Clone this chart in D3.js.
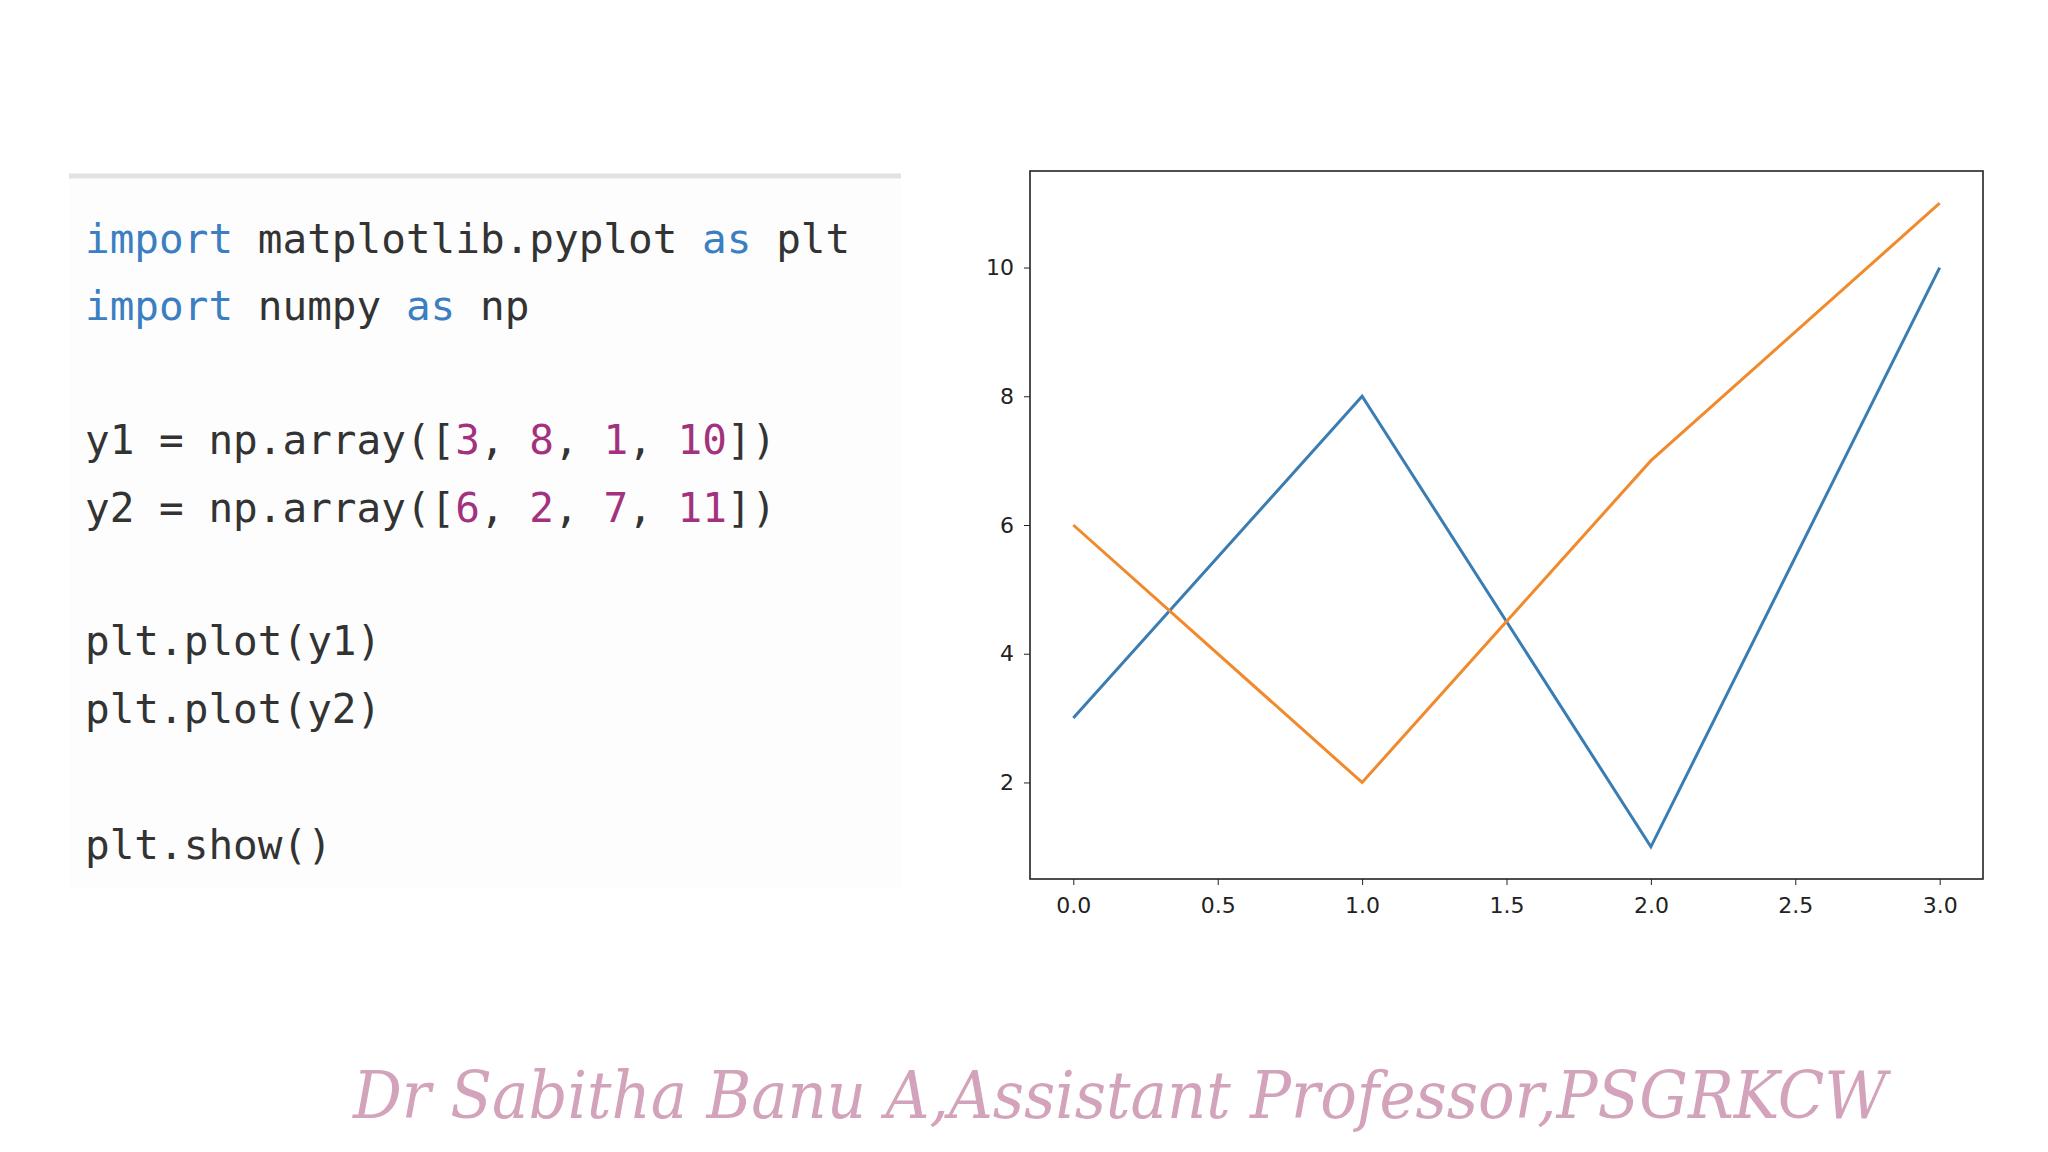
<!DOCTYPE html>
<html><head><meta charset="utf-8">
<script src="https://cdn.jsdelivr.net/npm/d3@7"></script>
<style>body{margin:0;background:#fff}</style></head>
<body><svg id="c" width="2048" height="1152"></svg>
<script>
const xIdx = [0, 1, 2, 3];
const y1 = [3, 8, 1, 10];
const y2 = [6, 2, 7, 11];
const xTicks = [0, 0.5, 1, 1.5, 2, 2.5, 3];
const yTicks = [2, 4, 6, 8, 10];
const codeLines = [
  [["import","k"],[" matplotlib.pyplot ","t"],["as","k"],[" plt","t"]],
  [["import","k"],[" numpy ","t"],["as","k"],[" np","t"]],
  [["y1 = np.array([","t"],["3","n"],[", ","t"],["8","n"],[", ","t"],["1","n"],[", ","t"],["10","n"],["])","t"]],
  [["y2 = np.array([","t"],["6","n"],[", ","t"],["2","n"],[", ","t"],["7","n"],[", ","t"],["11","n"],["])","t"]],
  [["plt.plot(y1)","t"]],
  [["plt.plot(y2)","t"]],
  [["plt.show()","t"]]
];
const codeY = [253, 320, 454, 522, 655, 723, 859];
const footer = "Dr Sabitha Banu A,Assistant Professor,PSGRKCW";

const svg = d3.select("#c");
svg.append("rect").attr("x",69).attr("y",179).attr("width",832).attr("height",710).attr("fill","#fdfdfd");
svg.append("line").attr("x1",69).attr("x2",901).attr("y1",176).attr("y2",176).attr("stroke","#e2e2e2").attr("stroke-width",5);
const col = {k:"#3b7fc2", t:"#333", n:"#a3327e"};
codeLines.forEach((ln,i)=>{
  const t = svg.append("text").attr("x",85).attr("y",codeY[i])
    .attr("font-family","DejaVu Sans Mono").attr("font-size",41).style("white-space","pre");
  ln.forEach(([s,c])=>t.append("tspan").attr("fill",col[c]).text(s));
});

const L=1030,R=1983,T=171,B=879;
const x = d3.scaleLinear().domain([-0.15,3.15]).range([L,R]);
const y = d3.scaleLinear().domain([0.5,11.5]).range([B,T]);
const gx = svg.append("g").attr("transform",`translate(0,${B})`)
  .call(d3.axisBottom(x).tickValues(xTicks).tickFormat(d3.format(".1f")).tickSize(6).tickPadding(12));
const gy = svg.append("g").attr("transform",`translate(${L},0)`)
  .call(d3.axisLeft(y).tickValues(yTicks).tickSize(6).tickPadding(10));
[gx,gy].forEach(g=>{g.select(".domain").remove();g.selectAll("text").attr("font-family","DejaVu Sans").attr("font-size",22).attr("fill","#222");g.selectAll("line").attr("stroke","#222");});
svg.append("rect").attr("x",L).attr("y",T).attr("width",R-L).attr("height",B-T).attr("fill","none").attr("stroke","#222").attr("stroke-width",1.6);
const line = d3.line().x((d,i)=>x(xIdx[i])).y(d=>y(d));
svg.append("path").datum(y1).attr("d",line).attr("fill","none").attr("stroke","#3a7db3").attr("stroke-width",3);
svg.append("path").datum(y2).attr("d",line).attr("fill","none").attr("stroke","#f08a2c").attr("stroke-width",3);

svg.append("text").attr("x",353).attr("y",1118).attr("textLength",1534).attr("lengthAdjust","spacingAndGlyphs")
  .attr("font-family","DejaVu Serif").attr("font-style","italic").attr("font-size",66).attr("fill","#d3a3bb").text(footer);
</script></body></html>
